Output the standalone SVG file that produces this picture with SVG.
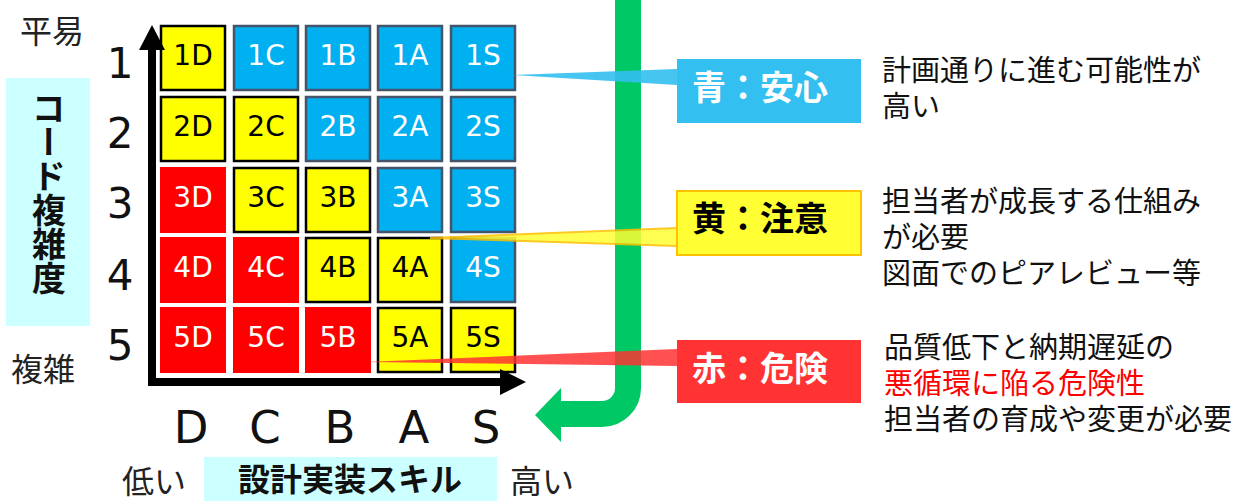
<svg xmlns="http://www.w3.org/2000/svg" width="1246" height="501" viewBox="0 0 1246 501">
<style>
.y{fill:#FFFF00;stroke:#000;stroke-width:2.5}
.b{fill:#00B0F0;stroke:#44546A;stroke-width:2.5}
.r{fill:#FF0000}
.ct{font-family:"DejaVu Sans",sans-serif;font-size:28px;text-anchor:middle}
.w{fill:#fff}
.k{fill:#000}
.num{font-family:"DejaVu Sans",sans-serif;font-size:42px;text-anchor:middle;fill:#111}
.col{font-family:"DejaVu Sans",sans-serif;font-size:45px;text-anchor:middle;fill:#111}
.lbl{font-family:"Noto Sans CJK JP",sans-serif;font-size:32px;fill:#222}
.desc{font-family:"Noto Sans CJK JP",sans-serif;font-size:29px;fill:#111}
.cap{font-family:"Noto Sans CJK JP",sans-serif;font-size:32px;font-weight:bold}
.tag{font-family:"Noto Sans CJK JP",sans-serif;font-size:34px;font-weight:bold}
</style>

<g id="axis-labels">
  <text class="lbl" x="20" y="43">平易</text>
  <text class="lbl" x="11" y="381">複雑</text>
  <text class="lbl" x="122" y="493">低い</text>
  <text class="lbl" x="510" y="493">高い</text>
  <text class="num" x="120" y="78">1</text>
  <text class="num" x="120" y="148">2</text>
  <text class="num" x="120" y="218">3</text>
  <text class="num" x="120" y="290">4</text>
  <text class="num" x="120" y="360">5</text>
  <text class="col" x="191" y="443">D</text>
  <text class="col" x="265" y="443">C</text>
  <text class="col" x="340" y="443">B</text>
  <text class="col" x="414" y="443">A</text>
  <text class="col" x="486" y="443">S</text>
</g>

<g id="y-axis-title">
  <rect x="6" y="78" width="84" height="248" fill="#CCFFFF"/>
  <text x="49" y="91" font-family="Noto Sans CJK JP, sans-serif" font-size="34" font-weight="bold" fill="#111" style="writing-mode:vertical-rl">コード複雑度</text>
</g>

<g id="x-axis-title">
  <rect x="204" y="457" width="293" height="44" fill="#CCFFFF"/>
  <text x="350" y="491" class="cap" text-anchor="middle" fill="#111">設計実装スキル</text>
</g>

<g id="grid">
  <g id="c1D"><rect class="y" x="161" y="26" width="64" height="64"/><text class="ct k" x="193" y="65">1D</text></g>
  <g id="c1C"><rect class="b" x="234" y="26" width="64" height="64"/><text class="ct w" x="266" y="65">1C</text></g>
  <g id="c1B"><rect class="b" x="306" y="26" width="64" height="64"/><text class="ct w" x="338" y="65">1B</text></g>
  <g id="c1A"><rect class="b" x="378" y="26" width="64" height="64"/><text class="ct w" x="410" y="65">1A</text></g>
  <g id="c1S"><rect class="b" x="451" y="26" width="64" height="64"/><text class="ct w" x="483" y="65">1S</text></g>

  <g id="c2D"><rect class="y" x="161" y="97" width="64" height="64"/><text class="ct k" x="193" y="136">2D</text></g>
  <g id="c2C"><rect class="y" x="234" y="97" width="64" height="64"/><text class="ct k" x="266" y="136">2C</text></g>
  <g id="c2B"><rect class="b" x="306" y="97" width="64" height="64"/><text class="ct w" x="338" y="136">2B</text></g>
  <g id="c2A"><rect class="b" x="378" y="97" width="64" height="64"/><text class="ct w" x="410" y="136">2A</text></g>
  <g id="c2S"><rect class="b" x="451" y="97" width="64" height="64"/><text class="ct w" x="483" y="136">2S</text></g>

  <g id="c3D"><rect class="r" x="160" y="167" width="66" height="66"/><text class="ct w" x="193" y="207">3D</text></g>
  <g id="c3C"><rect class="y" x="234" y="168" width="64" height="64"/><text class="ct k" x="266" y="207">3C</text></g>
  <g id="c3B"><rect class="y" x="306" y="168" width="64" height="64"/><text class="ct k" x="338" y="207">3B</text></g>
  <g id="c3A"><rect class="b" x="378" y="168" width="64" height="64"/><text class="ct w" x="410" y="207">3A</text></g>
  <g id="c3S"><rect class="b" x="451" y="168" width="64" height="64"/><text class="ct w" x="483" y="207">3S</text></g>

  <g id="c4D"><rect class="r" x="160" y="237" width="66" height="66"/><text class="ct w" x="193" y="277">4D</text></g>
  <g id="c4C"><rect class="r" x="233" y="237" width="66" height="66"/><text class="ct w" x="266" y="277">4C</text></g>
  <g id="c4B"><rect class="y" x="306" y="238" width="64" height="64"/><text class="ct k" x="338" y="277">4B</text></g>
  <g id="c4A"><rect class="y" x="378" y="238" width="64" height="64"/><text class="ct k" x="410" y="277">4A</text></g>
  <g id="c4S"><rect class="b" x="451" y="238" width="64" height="64"/><text class="ct w" x="483" y="277">4S</text></g>

  <g id="c5D"><rect class="r" x="160" y="307" width="66" height="66"/><text class="ct w" x="193" y="347">5D</text></g>
  <g id="c5C"><rect class="r" x="233" y="307" width="66" height="66"/><text class="ct w" x="266" y="347">5C</text></g>
  <g id="c5B"><rect class="r" x="305" y="307" width="66" height="66"/><text class="ct w" x="338" y="347">5B</text></g>
  <g id="c5A"><rect class="y" x="378" y="308" width="64" height="64"/><text class="ct k" x="410" y="347">5A</text></g>
  <g id="c5S"><rect class="y" x="451" y="308" width="64" height="64"/><text class="ct k" x="483" y="347">5S</text></g>
</g>

<g id="connectors">
  <path d="M152 48 V382 H502" fill="none" stroke="#000" stroke-width="8"/>
  <polygon points="152,25 139,50 165,50" fill="#000"/>
  <polygon points="526,382 500,369 500,395" fill="#000"/>
  <path d="M628 -5 V388 A26 26 0 0 1 602 414 H558" fill="none" stroke="#00C864" stroke-width="26"/>
  <polygon points="535,415 561,388 561,442" fill="#00C864"/>
  <polygon points="512,75 677,69 677,85" fill="#33BFF0" opacity="0.9"/>
  <polygon points="430,238 677,228 677,246" fill="#FFFF33" stroke="#FFC000" stroke-width="2" opacity="0.85"/>
  <polygon points="366,362 677,349 677,366" fill="#FF3333" opacity="0.85"/>
</g>

<g id="blue-callout">
  <rect x="677" y="59" width="184" height="64" fill="#33BFF0"/>
  <text class="tag" x="692" y="100" fill="#fff">青：安心</text>
</g>
<g id="yellow-callout">
  <rect x="677" y="191" width="184" height="64" fill="#FFFF33" stroke="#FFC000" stroke-width="2"/>
  <text class="tag" x="692" y="231" fill="#000">黄：注意</text>
</g>
<g id="red-callout">
  <rect x="677" y="340" width="184" height="63" fill="#FF3333"/>
  <text class="tag" x="692" y="381" fill="#fff">赤：危険</text>
</g>

<g id="blue-desc">
  <text class="desc" x="882" y="81">計画通りに進む可能性が</text>
  <text class="desc" x="882" y="117">高い</text>
</g>
<g id="yellow-desc">
  <text class="desc" x="882" y="212">担当者が成長する仕組み</text>
  <text class="desc" x="882" y="248">が必要</text>
  <text class="desc" x="882" y="284">図面でのピアレビュー等</text>
</g>
<g id="red-desc">
  <text class="desc" x="884" y="358">品質低下と納期遅延の</text>
  <text class="desc" x="884" y="394" style="fill:#FF0000">悪循環に陥る危険性</text>
  <text class="desc" x="884" y="430">担当者の育成や変更が必要</text>
</g>
</svg>
